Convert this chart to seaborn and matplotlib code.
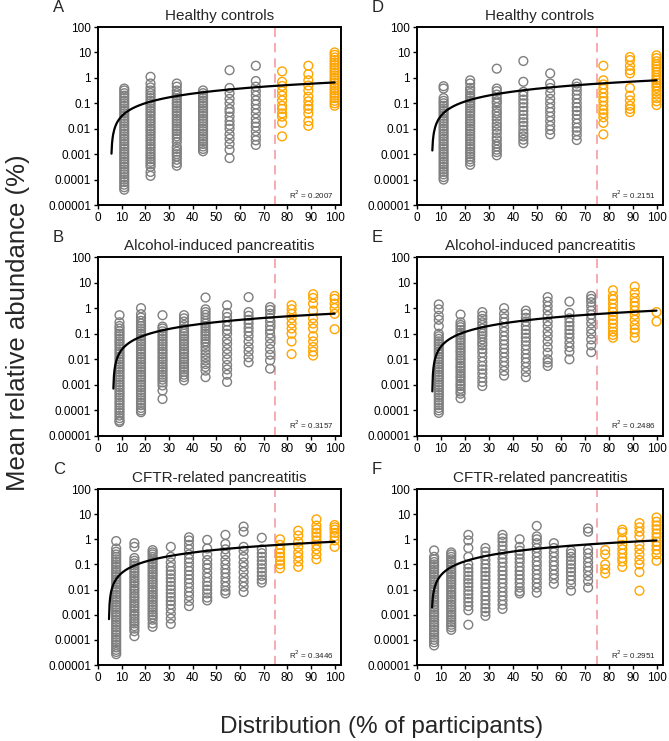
import numpy as np
import pandas as pd
import matplotlib
matplotlib.use("Agg")
import matplotlib.pyplot as plt
import seaborn as sns

sns.set_style("white")
plt.rcParams['font.family'] = ['Liberation Sans', 'DejaVu Sans']

# ---------------- data ----------------
x_hc = [11.1, 22.2, 33.3, 44.4, 55.6, 66.7, 77.8, 88.9, 100]
x_alc = [9.09, 18.18, 27.27, 36.36, 45.45, 54.55, 63.64, 72.73, 81.82, 90.91, 100]
x_cftr_c = [7.69, 15.38, 23.08, 30.77, 38.46, 46.15, 53.85, 61.54, 69.23, 76.92, 84.62, 92.31, 100]
x_cftr_f = [7.14, 14.29, 21.43, 28.57, 35.71, 42.86, 50, 57.14, 64.29, 71.43, 78.57, 85.71, 92.86, 100]

y_a = [
    [0.38, 0.32, 0.25, 0.2, 0.16, 0.125, 0.1, 0.08, 0.063, 0.05, 0.04, 0.032, 0.025, 0.02, 0.016, 0.0125, 0.01, 0.008, 0.0063, 0.005, 0.004, 0.0032, 0.0025, 0.002, 0.0016, 0.00125, 0.001, 8e-4, 6.3e-4, 5e-4, 4e-4, 3.2e-4, 2.5e-4, 2e-4, 1.6e-4, 1.25e-4, 1e-4, 8e-5, 6.3e-5, 5e-5, 4e-5],
    [1.1, 0.6, 0.42, 0.32, 0.25, 0.2, 0.16, 0.125, 0.1, 0.08, 0.063, 0.05, 0.04, 0.032, 0.025, 0.02, 0.016, 0.0125, 0.01, 0.008, 0.0063, 0.005, 0.004, 0.0032, 0.0025, 0.002, 0.0016, 0.00125, 0.001, 8e-4, 6.3e-4, 5e-4, 4e-4, 3.2e-4, 2e-4, 1.4e-4],
    [0.6, 0.45, 0.32, 0.25, 0.2, 0.16, 0.125, 0.1, 0.08, 0.063, 0.05, 0.04, 0.032, 0.025, 0.02, 0.016, 0.0125, 0.01, 0.008, 0.0063, 0.005, 0.004, 0.003, 0.002, 0.0016, 0.00125, 0.001, 8e-4, 6e-4, 4.5e-4, 3.5e-4],
    [0.32, 0.25, 0.2, 0.16, 0.125, 0.1, 0.08, 0.063, 0.05, 0.04, 0.032, 0.025, 0.02, 0.016, 0.0125, 0.01, 0.008, 0.0063, 0.005, 0.004, 0.0032, 0.0025, 0.002, 0.0016, 0.0013],
    [2.0, 0.4, 0.25, 0.15, 0.1, 0.06, 0.045, 0.03, 0.02, 0.014, 0.01, 0.006, 0.004, 0.0025, 0.0015, 7e-4],
    [3.0, 0.75, 0.45, 0.3, 0.2, 0.13, 0.09, 0.06, 0.04, 0.025, 0.017, 0.012, 0.008, 0.005, 0.0035, 0.0023],
    [1.8, 0.7, 0.48, 0.3, 0.2, 0.13, 0.08, 0.06, 0.04, 0.03, 0.017, 0.005],
    [3.0, 1.4, 0.8, 0.5, 0.32, 0.18, 0.12, 0.08, 0.06, 0.04, 0.02, 0.013],
    [10, 8, 6.3, 5, 4, 3.2, 2.5, 2, 1.6, 1.25, 1, 0.8, 0.63, 0.5, 0.4, 0.32, 0.25, 0.2, 0.16, 0.125, 0.1, 0.08],
]
y_d = [
    [0.47, 0.38, 0.16, 0.125, 0.1, 0.08, 0.063, 0.05, 0.04, 0.032, 0.025, 0.02, 0.016, 0.0125, 0.01, 0.008, 0.0063, 0.005, 0.004, 0.0032, 0.0025, 0.002, 0.0016, 0.00125, 0.001, 8e-4, 6.3e-4, 5e-4, 4e-4, 3.2e-4, 2.5e-4, 2e-4, 1.6e-4, 1.25e-4, 1e-4],
    [0.8, 0.6, 0.4, 0.32, 0.25, 0.2, 0.16, 0.125, 0.1, 0.08, 0.063, 0.05, 0.04, 0.032, 0.025, 0.02, 0.016, 0.0125, 0.01, 0.008, 0.0063, 0.005, 0.004, 0.0032, 0.0025, 0.002, 0.0016, 0.00125, 0.001, 8e-4, 6.3e-4, 5e-4, 3.8e-4],
    [2.3, 0.38, 0.3, 0.22, 0.16, 0.12, 0.1, 0.07, 0.05, 0.04, 0.03, 0.022, 0.016, 0.012, 0.009, 0.0065, 0.0045, 0.0035, 0.0025, 0.002, 0.0015, 0.0012, 9e-4],
    [4.6, 0.7, 0.28, 0.2, 0.14, 0.1, 0.07, 0.05, 0.035, 0.025, 0.018, 0.013, 0.009, 0.0065, 0.005, 0.0037, 0.0027],
    [1.5, 0.6, 0.4, 0.25, 0.15, 0.1, 0.065, 0.045, 0.03, 0.02, 0.013, 0.009, 0.006],
    [0.6, 0.45, 0.32, 0.22, 0.15, 0.1, 0.07, 0.05, 0.035, 0.024, 0.016, 0.011, 0.008, 0.0055, 0.0036],
    [3.0, 0.8, 0.55, 0.38, 0.25, 0.17, 0.12, 0.08, 0.055, 0.04, 0.028, 0.017, 0.006],
    [6.6, 5.0, 3.0, 2.0, 1.5, 0.4, 0.2, 0.13, 0.08, 0.06, 0.045],
    [7.7, 6, 4.5, 3.5, 2.8, 2.2, 1.7, 1.3, 1.0, 0.8, 0.63, 0.5, 0.4, 0.3, 0.22, 0.16, 0.12, 0.085],
]
y_b = [
    [0.53, 0.28, 0.2, 0.16, 0.125, 0.1, 0.08, 0.063, 0.05, 0.04, 0.032, 0.025, 0.02, 0.016, 0.0125, 0.01, 0.008, 0.0063, 0.005, 0.004, 0.0032, 0.0025, 0.002, 0.0016, 0.00125, 0.001, 8e-4, 6.3e-4, 5e-4, 4e-4, 3.2e-4, 2.5e-4, 2e-4, 1.6e-4, 1.25e-4, 1e-4, 8e-5, 6.3e-5, 5e-5, 4e-5, 3.5e-5],
    [1.0, 0.58, 0.43, 0.32, 0.25, 0.2, 0.16, 0.125, 0.1, 0.08, 0.063, 0.05, 0.04, 0.032, 0.025, 0.02, 0.016, 0.0125, 0.01, 0.008, 0.0063, 0.005, 0.004, 0.0032, 0.0025, 0.002, 0.0016, 0.00125, 0.001, 8e-4, 6.3e-4, 5e-4, 4e-4, 3.2e-4, 2.5e-4, 2e-4, 1.6e-4, 1.25e-4, 1e-4, 8.5e-5],
    [0.53, 0.19, 0.16, 0.125, 0.1, 0.08, 0.063, 0.05, 0.04, 0.032, 0.025, 0.02, 0.016, 0.0125, 0.01, 0.008, 0.0063, 0.005, 0.004, 0.0032, 0.0025, 0.002, 0.0016, 0.00125, 9.5e-4, 6e-4, 2.8e-4],
    [0.53, 0.4, 0.3, 0.22, 0.16, 0.125, 0.1, 0.08, 0.063, 0.05, 0.04, 0.032, 0.025, 0.02, 0.016, 0.0125, 0.01, 0.008, 0.0063, 0.005, 0.004, 0.0032, 0.0025, 0.002, 0.0015],
    [2.6, 0.9, 0.7, 0.55, 0.42, 0.32, 0.25, 0.2, 0.16, 0.125, 0.1, 0.08, 0.063, 0.05, 0.04, 0.03, 0.022, 0.016, 0.012, 0.009, 0.0065, 0.005, 0.0036, 0.002],
    [1.3, 0.65, 0.45, 0.3, 0.2, 0.14, 0.1, 0.06, 0.04, 0.025, 0.016, 0.01, 0.006, 0.004, 0.0025, 0.0013],
    [2.7, 0.7, 0.5, 0.35, 0.25, 0.17, 0.12, 0.08, 0.05, 0.03, 0.02, 0.012, 0.0076],
    [1.1, 0.85, 0.6, 0.42, 0.3, 0.2, 0.14, 0.1, 0.065, 0.04, 0.025, 0.015, 0.009, 0.0043],
    [1.3, 0.9, 0.6, 0.4, 0.25, 0.16, 0.1, 0.05, 0.016],
    [3.5, 2.5, 1.5, 0.8, 0.4, 0.25, 0.16, 0.08, 0.05, 0.03, 0.02, 0.014],
    [3.0, 2.3, 1.5, 1.0, 0.6, 0.15],
]
y_e = [
    [1.4, 0.9, 0.5, 0.35, 0.2, 0.1, 0.08, 0.063, 0.05, 0.04, 0.032, 0.025, 0.02, 0.016, 0.0125, 0.01, 0.008, 0.0063, 0.005, 0.004, 0.0032, 0.0025, 0.002, 0.0016, 0.00125, 0.001, 8e-4, 6.3e-4, 5e-4, 4e-4, 3.2e-4, 2.5e-4, 2e-4, 1.6e-4, 1.25e-4, 1e-4, 8e-5],
    [0.56, 0.28, 0.22, 0.18, 0.14, 0.11, 0.09, 0.07, 0.055, 0.045, 0.035, 0.028, 0.022, 0.018, 0.014, 0.011, 0.009, 0.007, 0.0055, 0.0045, 0.0035, 0.0028, 0.0022, 0.0018, 0.0014, 0.0011, 9e-4, 7e-4, 5.5e-4, 4.5e-4, 3e-4],
    [0.7, 0.5, 0.38, 0.28, 0.22, 0.16, 0.125, 0.1, 0.08, 0.06, 0.045, 0.035, 0.025, 0.018, 0.012, 0.008, 0.0055, 0.004, 0.0028, 0.0019, 0.0013, 9e-4],
    [1.0, 0.6, 0.4, 0.28, 0.18, 0.12, 0.08, 0.055, 0.038, 0.026, 0.018, 0.012, 0.008, 0.0055, 0.0035, 0.0023],
    [0.8, 0.6, 0.42, 0.3, 0.2, 0.14, 0.1, 0.07, 0.05, 0.035, 0.024, 0.016, 0.011, 0.0075, 0.005, 0.0032, 0.002],
    [2.7, 1.8, 1.2, 0.8, 0.5, 0.3, 0.2, 0.12, 0.08, 0.05, 0.03, 0.018, 0.01, 0.0075, 0.0055],
    [1.8, 0.65, 0.4, 0.28, 0.2, 0.14, 0.1, 0.07, 0.045, 0.03, 0.02, 0.01],
    [3.0, 2.3, 1.7, 1.2, 0.8, 0.55, 0.38, 0.25, 0.15, 0.1, 0.06, 0.035, 0.019],
    [5.0, 3.0, 2.2, 1.5, 1.0, 0.7, 0.5, 0.35, 0.25, 0.17, 0.12, 0.09, 0.07],
    [7.0, 4.0, 2.5, 1.7, 1.2, 0.8, 0.55, 0.35, 0.22, 0.15, 0.11, 0.07],
    [0.7, 0.3],
]
y_c = [
    [0.85, 0.43, 0.32, 0.25, 0.2, 0.16, 0.125, 0.1, 0.08, 0.063, 0.05, 0.04, 0.032, 0.025, 0.02, 0.016, 0.0125, 0.01, 0.008, 0.0063, 0.005, 0.004, 0.0032, 0.0025, 0.002, 0.0016, 0.00125, 0.001, 8e-4, 6.3e-4, 5e-4, 4e-4, 3.2e-4, 2.5e-4, 2e-4, 1.6e-4, 1.25e-4, 1e-4, 8e-5, 6.3e-5, 5e-5, 4e-5, 3.3e-5, 2.7e-5],
    [0.7, 0.5, 0.18, 0.14, 0.11, 0.09, 0.07, 0.055, 0.045, 0.035, 0.028, 0.022, 0.018, 0.014, 0.011, 0.009, 0.007, 0.0055, 0.0045, 0.0035, 0.0028, 0.0022, 0.0018, 0.0014, 0.0011, 9e-4, 7e-4, 5.5e-4, 4.5e-4, 3.5e-4, 2.8e-4, 2.2e-4, 1.4e-4],
    [0.37, 0.3, 0.25, 0.2, 0.16, 0.125, 0.1, 0.08, 0.063, 0.05, 0.04, 0.032, 0.025, 0.02, 0.016, 0.0125, 0.01, 0.008, 0.0063, 0.005, 0.004, 0.0032, 0.0025, 0.002, 0.0016, 0.00125, 0.001, 8e-4, 6.3e-4, 4.5e-4, 3.3e-4],
    [0.5, 0.2, 0.12, 0.08, 0.055, 0.04, 0.028, 0.02, 0.014, 0.01, 0.007, 0.005, 0.0035, 0.0025, 0.0017, 0.0011, 7e-4, 4.3e-4],
    [1.2, 0.9, 0.6, 0.4, 0.25, 0.17, 0.12, 0.08, 0.055, 0.038, 0.026, 0.018, 0.012, 0.008, 0.0055, 0.0035, 0.0022],
    [0.95, 0.43, 0.25, 0.15, 0.1, 0.07, 0.045, 0.03, 0.02, 0.014, 0.01, 0.007, 0.0048, 0.0037],
    [1.5, 0.65, 0.4, 0.25, 0.15, 0.1, 0.065, 0.045, 0.03, 0.02, 0.013, 0.009, 0.007],
    [3.2, 2.0, 0.5, 0.35, 0.2, 0.12, 0.08, 0.05, 0.03, 0.02, 0.013, 0.008],
    [1.15, 0.4, 0.28, 0.2, 0.14, 0.1, 0.07, 0.05, 0.035, 0.025, 0.019],
    [1.0, 0.6, 0.4, 0.28, 0.2, 0.14, 0.1, 0.07],
    [2.2, 1.4, 0.8, 0.5, 0.3, 0.2, 0.13, 0.08],
    [6.2, 3.5, 2.5, 1.8, 1.3, 0.9, 0.6, 0.4, 0.25, 0.16],
    [3.7, 3.0, 2.4, 1.8, 1.3, 0.9, 0.5],
]
y_f = [
    [0.36, 0.2, 0.16, 0.125, 0.1, 0.08, 0.063, 0.05, 0.04, 0.032, 0.025, 0.02, 0.016, 0.0125, 0.01, 0.008, 0.0063, 0.005, 0.004, 0.0032, 0.0025, 0.002, 0.0016, 0.00125, 0.001, 8e-4, 6.3e-4, 5e-4, 4e-4, 3.2e-4, 2.5e-4, 2e-4, 1.6e-4, 1.25e-4, 1e-4, 8e-5, 6e-5],
    [0.3, 0.25, 0.2, 0.16, 0.125, 0.1, 0.08, 0.063, 0.05, 0.04, 0.032, 0.025, 0.02, 0.016, 0.0125, 0.01, 0.008, 0.0063, 0.005, 0.004, 0.0032, 0.0025, 0.002, 0.0016, 0.00125, 0.001, 8e-4, 6.3e-4, 5e-4, 4e-4, 3.2e-4, 2.5e-4],
    [1.5, 0.9, 0.45, 0.2, 0.1, 0.07, 0.05, 0.035, 0.025, 0.018, 0.013, 0.009, 0.0065, 0.0045, 0.0032, 0.0022, 0.0015, 4e-4],
    [0.45, 0.32, 0.22, 0.15, 0.1, 0.07, 0.05, 0.035, 0.025, 0.017, 0.012, 0.008, 0.0055, 0.0038, 0.0026, 0.0018, 0.0013, 9e-4],
    [1.5, 1.1, 0.8, 0.55, 0.38, 0.25, 0.17, 0.12, 0.08, 0.055, 0.038, 0.026, 0.018, 0.012, 0.008, 0.0055, 0.0037, 0.0025, 0.0017],
    [1.0, 0.5, 0.35, 0.25, 0.17, 0.12, 0.08, 0.055, 0.038, 0.026, 0.018, 0.012, 0.0085, 0.007],
    [3.4, 1.3, 1.0, 0.7, 0.45, 0.3, 0.2, 0.13, 0.09, 0.06, 0.04, 0.027, 0.018, 0.012, 0.0075],
    [0.7, 0.45, 0.3, 0.2, 0.13, 0.09, 0.06, 0.04, 0.027, 0.017],
    [0.35, 0.27, 0.2, 0.14, 0.1, 0.07, 0.05, 0.035, 0.024, 0.016, 0.009],
    [2.7, 2.0, 0.4, 0.28, 0.18, 0.12, 0.08, 0.055, 0.035, 0.022, 0.012],
    [0.37, 0.25, 0.1, 0.065, 0.044],
    [2.4, 1.9, 1.0, 0.6, 0.4, 0.27, 0.18, 0.13, 0.08],
    [4.4, 3.0, 2.0, 1.3, 0.6, 0.4, 0.25, 0.15, 0.1, 0.05, 0.009],
    [7.4, 5.0, 3.5, 2.5, 1.7, 1.2, 0.8, 0.55, 0.38, 0.25, 0.14],
]

titles = ["Healthy controls", "Alcohol-induced pancreatitis", "CFTR-related pancreatitis"]
letters = ["A", "B", "C", "D", "E", "F"]
r2_labels = ["0.2007", "0.3157", "0.3446", "0.2151", "0.2486", "0.2951"]
# linear trendline coefficients (slope, intercept) and first x of the drawn trendline
trend_slope = [0.00699, 0.00651, 0.00838, 0.00853, 0.00854, 0.00958]
trend_icpt = [-0.0388, -0.0416, -0.0383, -0.0532, -0.0541, -0.0584]
trend_xstart = [5.7, 6.5, 4.65, 6.4, 6.4, 6.3]
ytick_vals = [1e-5, 1e-4, 1e-3, 1e-2, 1e-1, 1, 10, 100]
ytick_labels = ["0.00001", "0.0001", "0.001", "0.01", "0.1", "1", "10", "100"]
xtick_vals = [0, 10, 20, 30, 40, 50, 60, 70, 80, 90, 100]
cutoff = 75

panel_x = [x_hc, x_alc, x_cftr_c, x_hc, x_alc, x_cftr_f]
panel_y = [y_a, y_b, y_c, y_d, y_e, y_f]

GRAY = "#7F7F7F"
ORANGE = "#FFA500"
W, H = 669, 741
fig = plt.figure(figsize=(W / 100, H / 100), dpi=100)

col_lr = [(98, 341), (417, 663)]
row_tb = [(27, 205), (257, 436), (489, 665)]

for i in range(6):
    col = i // 3
    row = i % 3
    l, r = col_lr[col]
    t, b = row_tb[row]
    ax = fig.add_axes([l / W, 1 - b / H, (r - l) / W, (b - t) / H])

    xs, ys = [], []
    for xv, col_vals in zip(panel_x[i], panel_y[i]):
        for v in col_vals:
            xs.append(xv)
            ys.append(v)
    df = pd.DataFrame({"x": xs, "y": ys})
    df["grp"] = np.where(df["x"] > cutoff, "hi", "lo")

    ax.set_yscale("log")
    ax.axvline(cutoff, color="#F2939D", lw=1.1, ls=(0, (6, 4)), zorder=1)
    sns.scatterplot(data=df, x="x", y="y", hue="grp",
                    palette={"lo": GRAY, "hi": ORANGE}, legend=False,
                    s=40, linewidth=1.0, ax=ax, zorder=2)
    coll = ax.collections[-1]
    fcs = coll.get_facecolors()
    coll.set_edgecolors(fcs)
    coll.set_facecolors("none")
    coll.set_clip_on(False)

    xl = np.linspace(trend_xstart[i], 100, 400)
    yl = trend_slope[i] * xl + trend_icpt[i]
    sns.lineplot(x=xl, y=yl, color="black", lw=1.6, ax=ax, zorder=3)

    ax.set_xlim(0, 102.7)
    ax.set_ylim(1e-5, 100)
    ax.set_xticks(xtick_vals)
    ax.set_xticklabels([str(v) for v in xtick_vals])
    ax.set_yticks(ytick_vals)
    ax.set_yticklabels(ytick_labels)
    ax.minorticks_off()
    ax.tick_params(axis="both", direction="out", length=3, width=1,
                   labelsize=8.5, pad=2, colors="black")
    ax.tick_params(left=True, bottom=True)
    for sp in ax.spines.values():
        sp.set_visible(True)
        sp.set_color("black")
        sp.set_linewidth(1.4)
    ax.set_xlabel("")
    ax.set_ylabel("")
    ax.set_title(titles[row], fontsize=11, pad=5)
    ax.text(0.97, 0.06, "R$^2$ = " + r2_labels[i], transform=ax.transAxes,
            ha="right", va="center", fontsize=5.8)
    fig.text((l - 45) / W, 1 - (t - 19) / H, letters[i], fontsize=12,
             ha="left", va="center")

fig.text(382 / W, 1 - 727 / H, "Distribution (% of participants)",
         fontsize=17.5, ha="center", va="center")
fig.text(18 / W, 1 - 323 / H, "Mean relative abundance (%)",
         fontsize=18.5, ha="center", va="center", rotation=90)

fig.savefig("out.png", dpi=100)
